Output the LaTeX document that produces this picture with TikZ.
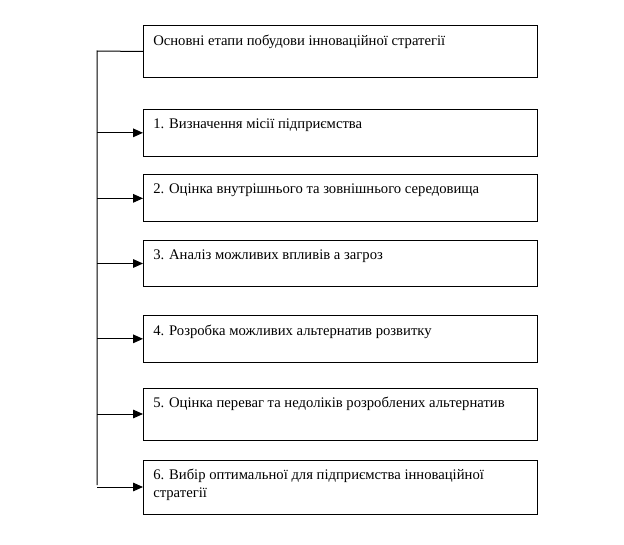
\documentclass[tikz,border=0pt]{standalone}
\usepackage{fontspec}
\setmainfont{Liberation Serif}
\usetikzlibrary{arrows.meta}

\begin{document}
\begin{tikzpicture}[x=0.75pt,y=0.75pt,yscale=-1,xscale=1,
  stagebox/.style={draw, line width=0.75pt, rectangle, minimum width=295.5pt, inner sep=0pt, anchor=north west},
  stagetext/.style={anchor=north west, inner sep=0pt, align=left, font=\fontsize{11}{13}\selectfont},
  feed/.style={line width=0.75pt, -{Triangle[length=7.5pt,width=6.5pt]}}]
\useasboundingbox (0,0) rectangle (624,545);
% Boxes
\node [stagebox, minimum height=39pt] (b0) at (143,25) {};
\node [stagebox, minimum height=35pt] (b1) at (143,109) {};
\node [stagebox, minimum height=35pt] (b2) at (143,174.5) {};
\node [stagebox, minimum height=34.5pt] (b3) at (143,240) {};
\node [stagebox, minimum height=35pt] (b4) at (143,315) {};
\node [stagebox, minimum height=39pt] (b5) at (143,387.5) {};
\node [stagebox, minimum height=40.5pt] (b6) at (143,459.5) {};
% Text Node
\node [stagetext] (t0) at (153,35) {Основні етапи побудови інноваційної стратегії};
% Text Node
\node [stagetext] (t1) at (153,119) {1. Визначення місії підприємства};
% Text Node
\node [stagetext] (t2) at (153,184) {2. Оцінка внутрішнього та зовнішнього середовища};
% Text Node
\node [stagetext] (t3) at (153,249.5) {3. Аналіз можливих впливів а загроз};
% Text Node
\node [stagetext] (t4) at (153,324.5) {4. Розробка можливих альтернатив розвитку};
% Text Node
\node [stagetext] (t5) at (153,397) {5. Оцінка переваг та недоліків розроблених альтернатив};
% Text Node
\node [stagetext] (t6) at (153,469) {6. Вибір оптимальної для підприємства інноваційної\\стратегії};
% Connectors
\coordinate (top) at (97,51);
\coordinate (bot) at (97,485);
\draw [line width=0.75pt] (b0.west) -- (top) -- (bot);
\foreach \i in {1,...,6}
  \draw [feed] (top |- b\i.west) -- (b\i.west);
\end{tikzpicture}
\end{document}
